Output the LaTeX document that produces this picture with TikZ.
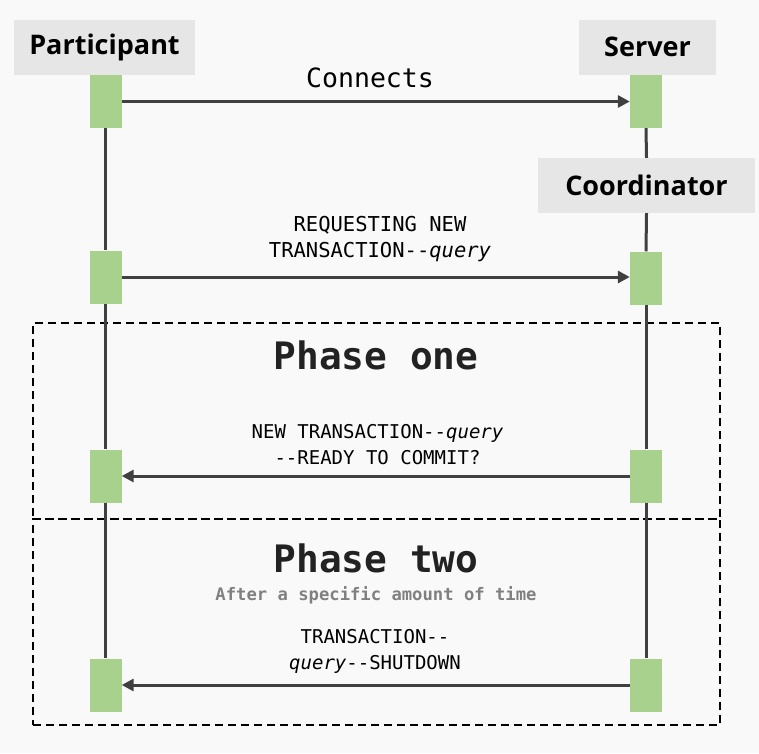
\documentclass[tikz,border=0pt]{standalone}
\usepackage{fontspec}
\setmainfont{Open Sans}
\setmonofont{DejaVu Sans Mono}
\usetikzlibrary{arrows.meta}
\definecolor{panelgray}{RGB}{249,249,249}
\definecolor{headgray}{RGB}{230,230,230}
\definecolor{actgreen}{RGB}{169,209,142}
\definecolor{linegray}{RGB}{64,64,64}
\definecolor{notegray}{RGB}{128,128,128}
\definecolor{phaseink}{RGB}{34,34,34}

\begin{document}
\begin{tikzpicture}[x=1pt, y=-1pt, every node/.style={inner sep=0pt},
    headbox/.style={fill=headgray, minimum height=55pt, font=\fontsize{27}{32}\selectfont\bfseries},
    actbar/.style={fill=actgreen, minimum width=32pt, minimum height=53pt},
    msgarrow/.style={linegray, line width=3pt, -{Triangle[length=12pt,width=12pt]}},
    lifeline/.style={linegray, line width=3pt},
    msglabel/.style={align=center, font=\ttfamily\fontsize{19}{26}\selectfont},
    phasebox/.style={draw, line width=2pt, dash pattern=on 8pt off 5pt, minimum width=687pt, minimum height=196pt},
    phasetitle/.style={text=phaseink, font=\ttfamily\bfseries\fontsize{37.8}{44}\selectfont}]
  \fill[panelgray] (0,0) rectangle (759,753);

  % heads
  \node[headbox, minimum width=181pt] (participant) at (104.5,47) {Participant};
  \node[headbox, minimum width=137pt] (server) at (647.5,47) {Server};
  \node[headbox, minimum width=217pt] (coordinator) at (646.5,185.5) {Coordinator};

  % phases
  \node[phasebox] (phaseOne) at (376.5,421) {};
  \node[phasebox, minimum height=206pt] (phaseTwo) at (376.5,622) {};

  % activation bars
  \foreach \n/\y in {1/101.5, 2/277, 3/476, 4/685}{
    \node[actbar] (pa\n) at (105.5,\y) {};
  }
  \node[actbar] (sa1) at (646,101.5) {};
  \foreach \n/\y in {2/278, 3/476, 4/685}{
    \node[actbar] (ca\n) at (646,\y) {};
  }

  % lifelines
  \draw[lifeline] (pa1.south) -- (pa2.north);
  \draw[lifeline] (pa2.south) -- (pa3.north);
  \draw[lifeline] (pa3.south) -- (pa4.north);
  \draw[lifeline] (sa1.south) -- (coordinator.north);
  \draw[lifeline] (coordinator.south) -- (ca2.north);
  \draw[lifeline] (ca2.south) -- (ca3.north);
  \draw[lifeline] (ca3.south) -- (ca4.north);

  % messages
  \draw[msgarrow] (pa1.east) -- (sa1.west);
  \draw[msgarrow] (pa2.east) -- (pa2.east -| ca2.west);
  \draw[msgarrow] (ca3.west) -- (pa3.east);
  \draw[msgarrow] (ca4.west) -- (pa4.east);

  \node[msglabel, font=\ttfamily\fontsize{26.5}{30}\selectfont] (connects) at (370,78) {Connects};
  \node[msglabel, font=\ttfamily\fontsize{20.5}{26}\selectfont] (request) at (380,239.5) {REQUESTING NEW\\TRANSACTION-{}-\textit{query}};
  \node[phasetitle] (titleOne) at (376,355) {Phase one};
  \node[msglabel] (ready) at (377.5,445) {NEW TRANSACTION-{}-\textit{query}\\-{}-READY TO COMMIT?};
  \node[phasetitle] (titleTwo) at (376,558) {Phase two};
  \node[text=notegray, font=\ttfamily\bfseries\fontsize{17.2}{20}\selectfont] (timeout) at (376,595) {After a specific amount of time};
  \node[msglabel] (shutdown) at (375,651) {TRANSACTION-{}-\\\textit{query}-{}-SHUTDOWN};
\end{tikzpicture}
\end{document}
